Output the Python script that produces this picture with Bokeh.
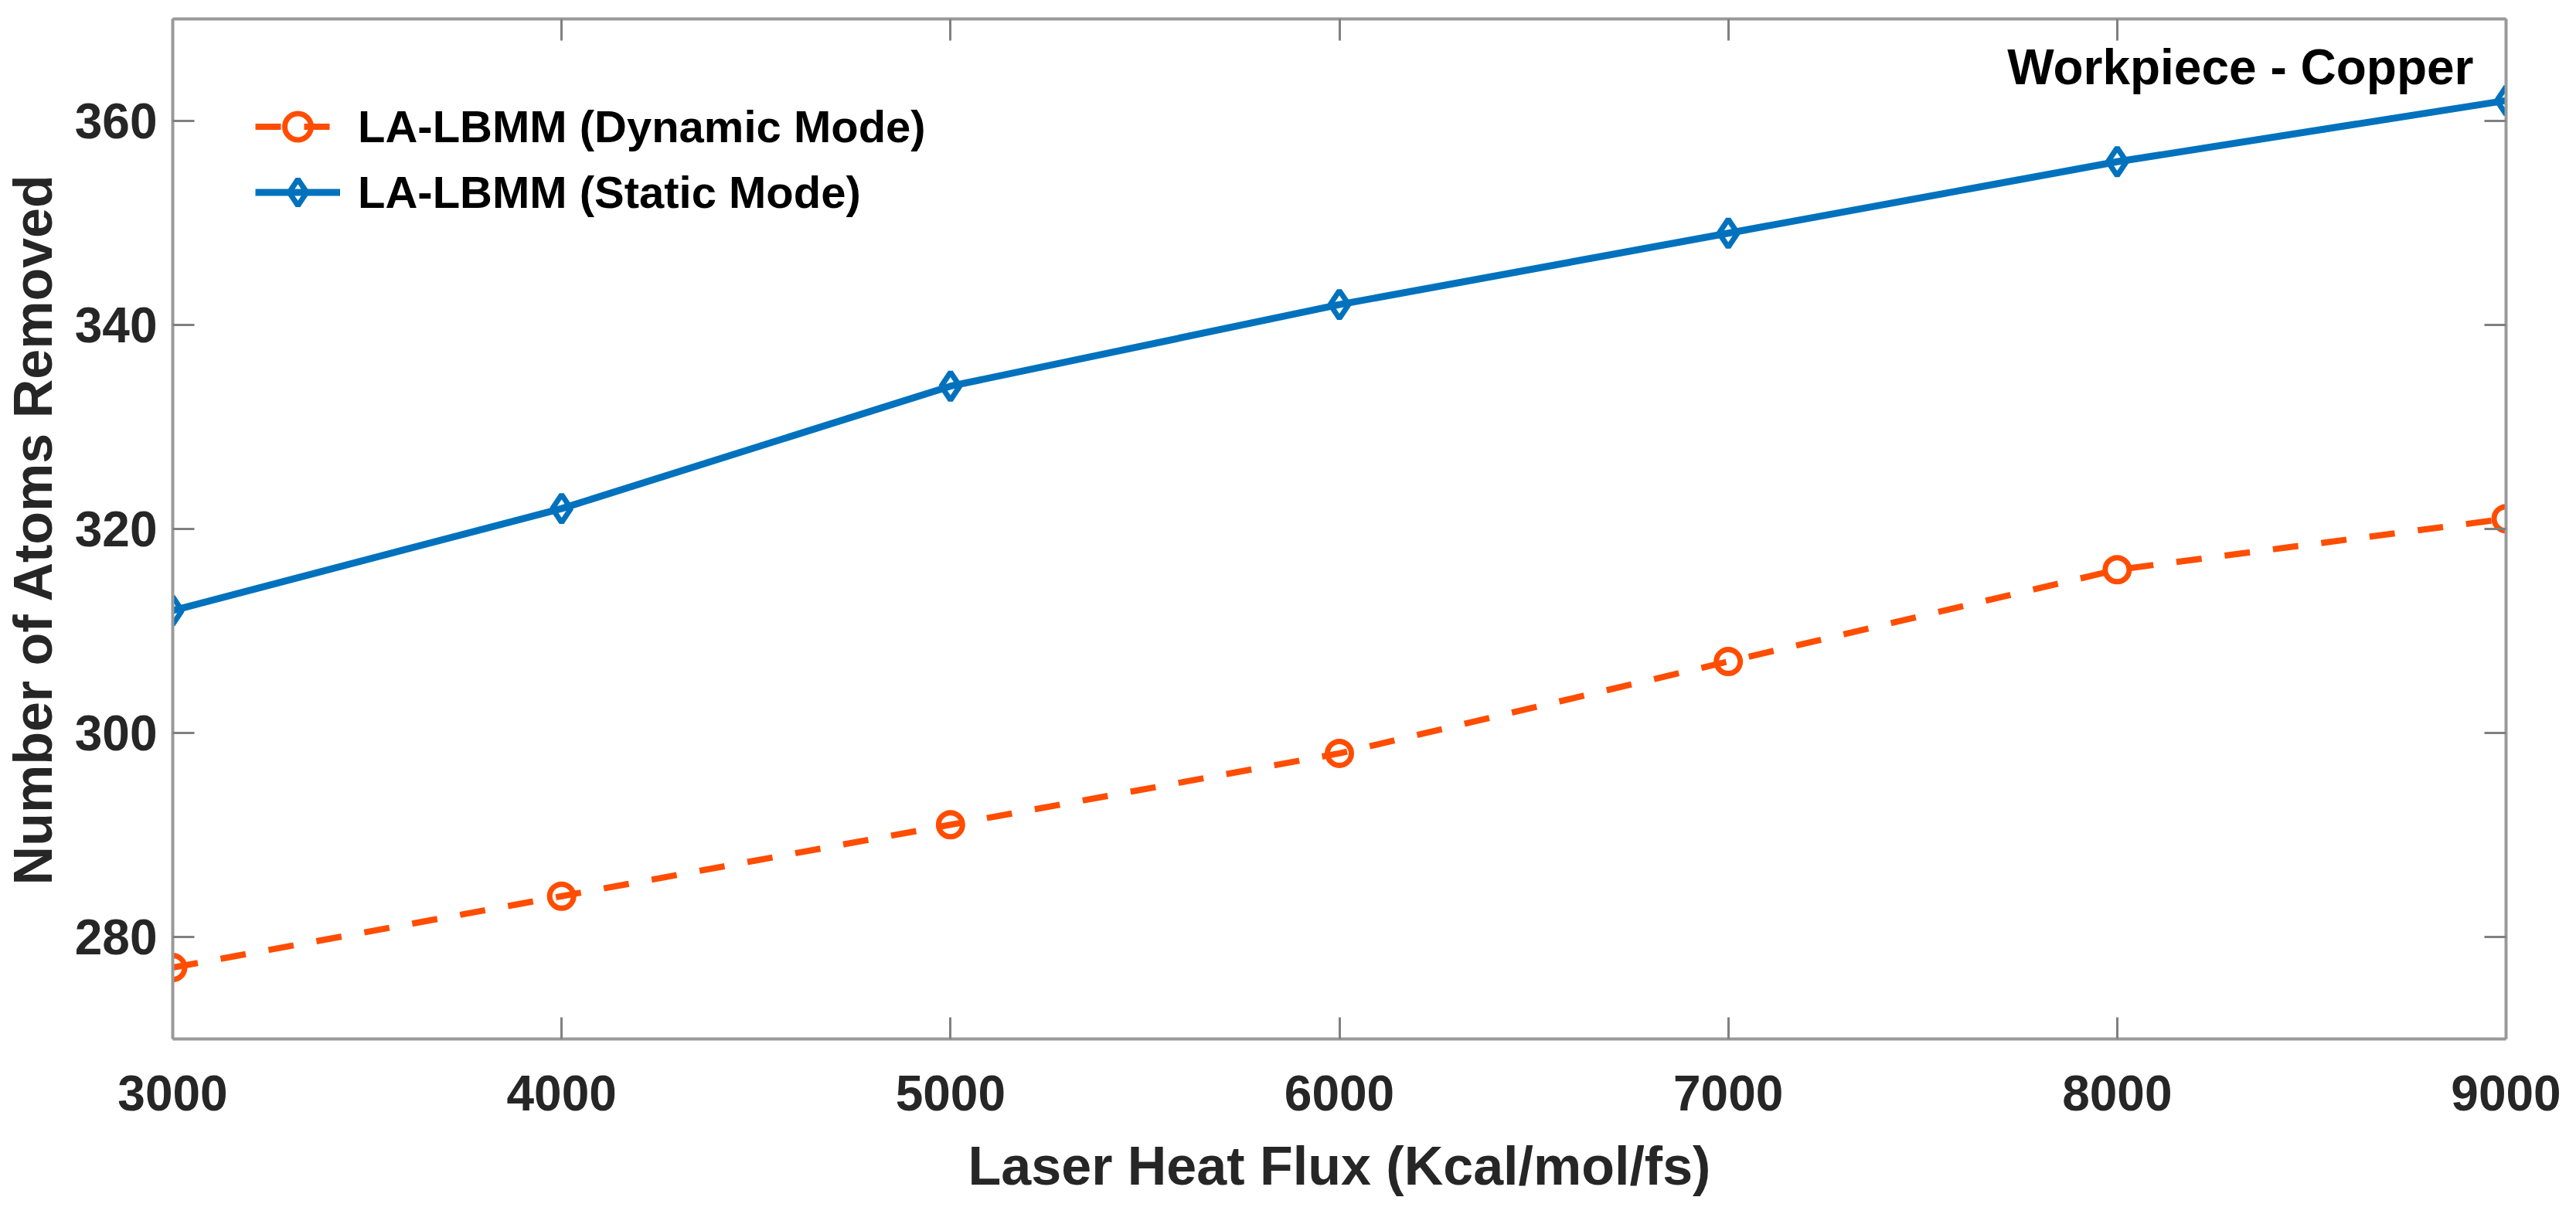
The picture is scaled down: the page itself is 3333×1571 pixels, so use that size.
from bokeh.plotting import figure
from bokeh.models import (LinearAxis, FixedTicker, Range1d, Legend, LegendItem, Label)
from bokeh.embed import file_html
from bokeh.resources import INLINE

# ---- data ----
heat_flux = [3000, 4000, 5000, 6000, 7000, 8000, 9000]
dynamic_mode = [277, 284, 291, 298, 307, 316, 321]
static_mode = [312, 322, 334, 342, 349, 356, 362]
x_ticks = [3000, 4000, 5000, 6000, 7000, 8000, 9000]
y_ticks = [280, 300, 320, 340, 360]
series_names = ["LA-LBMM (Dynamic Mode)", "LA-LBMM (Static Mode)"]
x_title = "Laser Heat Flux (Kcal/mol/fs)"
y_title = "Number of Atoms Removed"
note_text = "Workpiece - Copper"

FONT = "Liberation Sans"
ORANGE = "#FF4D00"
BLUE = "#0072BD"
AXIS_C = "#999999"
TXT_C = "#262626"

p = figure(width=3317, height=1550, output_backend="svg", toolbar_location=None,
           x_range=Range1d(3000, 9000), y_range=Range1d(270, 370),
           min_border_left=220, min_border_right=75, min_border_top=24,
           min_border_bottom=200, background_fill_color="white",
           border_fill_color="white", outline_line_color=None)
p.xgrid.visible = False
p.ygrid.visible = False

def style_axis(ax, ticks, show_labels=True):
    ax.ticker = FixedTicker(ticks=ticks)
    ax.axis_line_color = AXIS_C
    ax.axis_line_width = 4
    ax.major_tick_line_color = "#808080"
    ax.major_tick_line_width = 3
    ax.major_tick_in = 28
    ax.major_tick_out = 0
    ax.minor_tick_line_color = None
    ax.major_label_text_font = FONT
    ax.major_label_text_font_style = "bold"
    ax.major_label_text_font_size = "64px"
    ax.major_label_text_color = TXT_C
    ax.axis_label_text_font = FONT
    ax.axis_label_text_font_style = "bold"
    ax.axis_label_text_font_size = "70px"
    ax.axis_label_text_color = TXT_C
    if not show_labels:
        ax.major_label_overrides = {t: "" for t in ticks}
        ax.major_label_standoff = 0

xa = p.xaxis[0]
style_axis(xa, x_ticks)
xa.axis_label = x_title
xa.major_label_standoff = 47
xa.axis_label_standoff = 30

ya = p.yaxis[0]
style_axis(ya, y_ticks)
ya.axis_label = y_title
ya.major_label_standoff = 20
ya.axis_label_standoff = 12

top_ax = LinearAxis()
style_axis(top_ax, x_ticks, show_labels=False)
p.add_layout(top_ax, "above")
right_ax = LinearAxis()
style_axis(right_ax, y_ticks, show_labels=False)
p.add_layout(right_ax, "right")

# ---- series ----
l_dyn = p.line(heat_flux, dynamic_mode, line_color=ORANGE, line_width=8,
               line_dash="33 30")
m_dyn = p.scatter(heat_flux, dynamic_mode, marker="circle", size=31,
                  fill_color="white", fill_alpha=0, line_color=ORANGE, line_width=7)
l_sta = p.line(heat_flux, static_mode, line_color=BLUE, line_width=9)
m_sta = p.scatter(heat_flux, static_mode, marker="diamond", size=36,
                  fill_color="white", fill_alpha=0, line_color=BLUE, line_width=7)

legend = Legend(items=[LegendItem(label=series_names[0], renderers=[l_dyn, m_dyn]),
                       LegendItem(label=series_names[1], renderers=[l_sta, m_sta])],
                location=(107, 1053), padding=0, margin=0, spacing=-11,
                glyph_width=110, glyph_height=85, label_height=85,
                label_standoff=23, border_line_alpha=0, background_fill_alpha=0,
                label_text_font=FONT, label_text_font_style="bold",
                label_text_font_size="58px", label_text_color="black")
p.add_layout(legend)

note = Label(x=2977, y=1258, x_units="screen", y_units="screen", text=note_text,
             text_align="right", text_baseline="middle", text_font=FONT,
             text_font_style="bold", text_font_size="64px", text_color="black")
p.add_layout(note)

open("out.html", "w").write(file_html(p, INLINE))
